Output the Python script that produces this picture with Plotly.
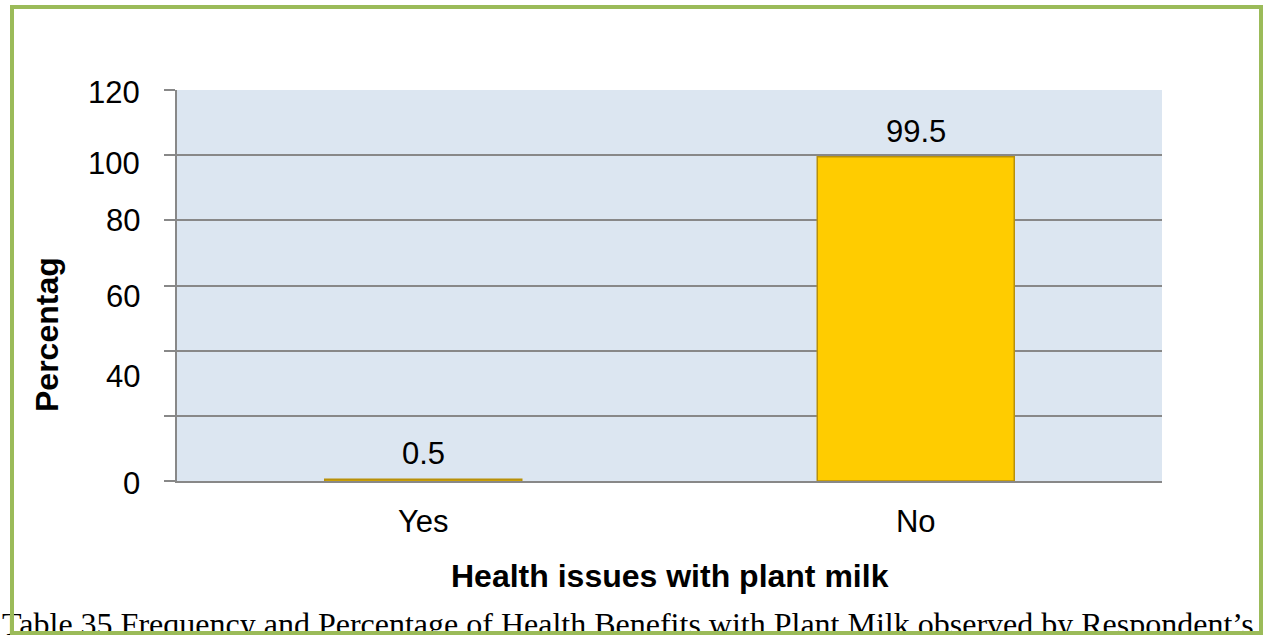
import plotly.graph_objects as go

# Survey responses: health issues noticed with plant milk
categories = ["Yes", "No"]
percentages = [0.5, 99.5]

# Y axis tick labels shown beside the gridlines
ytick_values = [0, 40, 60, 80, 100, 120]
ytick_shift = [-2, -26, -11, 0, -8, -2]   # small vertical offsets of the printed labels

caption = ("Table 35 Frequency and Percentage of Health Benefits with Plant Milk "
           "observed by Respondent\u2019s")

W, H = 1263, 635
L, R, T, B = 177, 101, 90, 154
PW, PH = W - L - R, H - T - B


def px_x(px):
    return (px - L) / PW


def px_y(py):
    return (H - B - py) / PH


SANS = "Liberation Sans, Arial, sans-serif"
SERIF = "Liberation Serif, Times New Roman, serif"

fig = go.Figure()
fig.add_trace(go.Bar(
    x=categories,
    y=percentages,
    width=0.4,
    marker=dict(color="#FFCC00", line=dict(color="#B8900A", width=1.5)),
    hoverinfo="x+y",
))

annotations = []
# value labels above each bar
for c, v in zip(categories, percentages):
    annotations.append(dict(
        x=c, y=v, xref="x", yref="y", text=f"{v:g}", showarrow=False,
        yanchor="bottom", yshift=6, font=dict(family=SANS, size=31, color="#000"),
    ))
# y tick labels
for v, s in zip(ytick_values, ytick_shift):
    annotations.append(dict(
        x=px_x(142), y=v, xref="paper", yref="y", text=str(v), showarrow=False,
        xanchor="right", yanchor="middle", yshift=s,
        font=dict(family=SANS, size=31, color="#000"),
    ))
# axis titles
annotations.append(dict(
    x=px_x(47), y=px_y(335), xref="paper", yref="paper", text="<b>Percentag</b>",
    showarrow=False, textangle=-90, xanchor="center", yanchor="middle",
    font=dict(family=SANS, size=32, color="#000"),
))
annotations.append(dict(
    x=0.5, y=px_y(576), xref="paper", yref="paper",
    text="<b>Health issues with plant milk</b>", showarrow=False,
    xanchor="center", yanchor="middle",
    font=dict(family=SANS, size=32, color="#000"),
))
# caption below the chart
annotations.append(dict(
    x=px_x(0), y=px_y(604), xref="paper", yref="paper", text=caption,
    showarrow=False, xanchor="left", yanchor="top",
    font=dict(family=SERIF, size=32, color="#000"),
))
# green frame around the chart, drawn last so it sits over the caption
annotations.append(dict(
    x=px_x(636.5), y=px_y(320), xref="paper", yref="paper", text=" ",
    showarrow=False, xanchor="center", yanchor="middle",
    width=1245, height=622, borderpad=0,
    bordercolor="#9BBB59", borderwidth=4, bgcolor="rgba(0,0,0,0)",
    font=dict(size=2),
))

fig.update_layout(
    width=W, height=H,
    margin=dict(l=L, r=R, t=T, b=B, pad=0),
    paper_bgcolor="white",
    plot_bgcolor="#DCE6F1",
    showlegend=False,
    bargap=0.6,
    annotations=annotations,
    xaxis=dict(
        showgrid=False, showline=True, linecolor="#888", linewidth=2,
        ticks="", ticklabelstandoff=12,
        tickfont=dict(family=SANS, size=31, color="#000"),
    ),
    yaxis=dict(
        range=[0, 120], tickvals=[0, 20, 40, 60, 80, 100, 120],
        showticklabels=False, ticks="outside", ticklen=11, tickcolor="#888",
        tickwidth=2, showgrid=True, gridcolor="#888", gridwidth=1.5,
        showline=True, linecolor="#888", linewidth=2, zeroline=False,
    ),
)

fig.write_html("out.html")
